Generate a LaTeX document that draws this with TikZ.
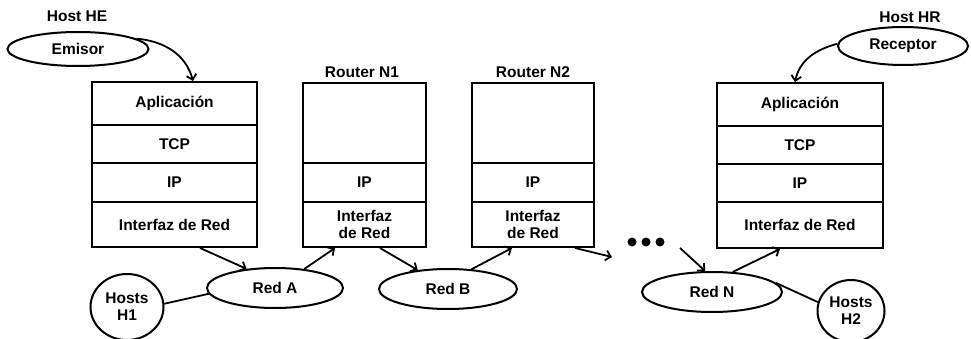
\documentclass[tikz,border=0pt]{standalone}
\usepackage{fontspec}
\setmainfont{Liberation Sans}
\usetikzlibrary{arrows.meta,shapes.geometric,calc}
\newcommand{\lblfont}{\fontsize{15.5}{17}\selectfont\bfseries}
\tikzset{
  layer/.style={draw, line width=2pt, anchor=north west, inner sep=0pt, align=center, font=\lblfont},
  oval/.style={draw, ellipse, line width=2pt, inner sep=0pt, align=center, font=\lblfont},
  caption/.style={inner sep=0pt, font=\lblfont},
  conn/.style={line width=1.8pt},
  arr/.style={conn, -{Straight Barb[length=5pt,width=10pt]}},
  dot/.style={fill=black}
}
\begin{document}
\begin{tikzpicture}[x=1pt,y=-1pt]
\useasboundingbox (0,0) rectangle (971,339);
% captions
\node[caption] (capHE) at (77,16) {Host HE};
\node[caption] (capR1) at (362,72) {Router N1};
\node[caption] (capR2) at (533,72) {Router N2};
\node[caption] (capHR) at (910,17) {Host HR};
% Host HE stack
\node[layer, minimum width=165pt, minimum height=43pt] (heA) at (91,81) {Aplicación};
\node[layer, minimum width=165pt, minimum height=38pt] (heT) at (91,124) {TCP};
\node[layer, minimum width=165pt, minimum height=39pt] (heP) at (91,162) {IP};
\node[layer, minimum width=165pt, minimum height=45pt] (heI) at (91,201) {Interfaz de Red};
% Router N1
\node[layer, minimum width=123pt, minimum height=80pt] (r1E) at (302,82) {};
\node[layer, minimum width=123pt, minimum height=39pt] (r1P) at (302,162) {IP};
\node[layer, minimum width=123pt, minimum height=45pt] (r1I) at (302,201) {Interfaz\\de Red};
% Router N2
\node[layer, minimum width=122pt, minimum height=80pt] (r2E) at (471,82) {};
\node[layer, minimum width=122pt, minimum height=39pt] (r2P) at (471,162) {IP};
\node[layer, minimum width=122pt, minimum height=45pt] (r2I) at (471,201) {Interfaz\\de Red};
% Host HR stack
\node[layer, minimum width=166pt, minimum height=43pt] (hrA) at (716,82) {Aplicación};
\node[layer, minimum width=166pt, minimum height=38pt] (hrT) at (716,125) {TCP};
\node[layer, minimum width=166pt, minimum height=38pt] (hrP) at (716,163) {IP};
\node[layer, minimum width=166pt, minimum height=46pt] (hrI) at (716,201) {Interfaz de Red};
% ovals
\node[oval, minimum width=141pt, minimum height=34pt] (emisor) at (78,49) {Emisor};
\node[oval, minimum width=130pt, minimum height=38pt] (receptor) at (903,46) {Receptor};
\node[oval, minimum width=136pt, minimum height=40pt] (redA) at (275,288) {Red A};
\node[oval, minimum width=138pt, minimum height=40pt] (redB) at (448,289) {Red B};
\node[oval, minimum width=140pt, minimum height=40pt] (redN) at (712,292) {Red N};
\node[oval, minimum width=73pt, minimum height=66pt] (h1) at (127,307) {Hosts\\H1};
\node[oval, minimum width=67pt, minimum height=62pt] (h2) at (851,311) {Hosts\\H2};
% dots
\fill[dot] (632,242) circle (4.5pt) (646,242) circle (4.5pt) (660,242) circle (4.5pt);
% connectors
\coordinate (freeEnd) at (612,257);
\coordinate (freeStart) at (680,248);
\draw[arr] (emisor.10) to[out=-5,in=105] ([xshift=102pt]heA.north west);
\draw[arr] (receptor.178) to[out=195,in=78] ([xshift=79pt]hrA.north west);
\draw[arr] ([xshift=109pt]heI.south west) -- (redA.146);
\draw[arr] (redA.33) -- ([xshift=33pt]r1I.south west);
\draw[arr] ([xshift=78pt]r1I.south west) -- (redB.148);
\draw[arr] (redB.40) -- ([xshift=41pt]r2I.south west);
\draw[arr] ([xshift=104pt]r2I.south west) -- (freeEnd);
\draw[arr] (freeStart) -- (redN.108);
\draw[arr] (redN.44) -- ([xshift=64pt]hrI.south west);
\draw[conn] (h1.5) -- (redA.185);
\draw[conn] (redN.8) -- (h2.165);
\end{tikzpicture}
\end{document}
